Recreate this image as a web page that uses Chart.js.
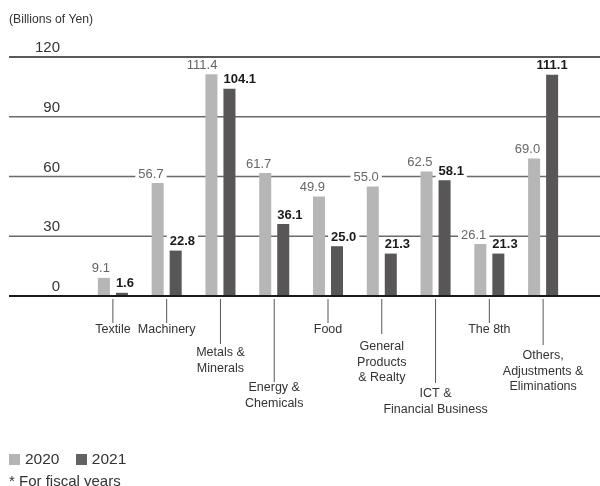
<!DOCTYPE html>
<html>
<head>
<meta charset="utf-8">
<script src="https://cdn.jsdelivr.net/npm/chart.js@4.4.1/dist/chart.umd.min.js"></script>
<style>
  html, body { margin: 0; padding: 0; background: #fff; }
  body { width: 600px; height: 486px; position: relative; overflow: hidden;
         font-family: "Liberation Sans", Arial, sans-serif; color: #333; }
  #wrap { position: absolute; left: 0; top: 0; width: 600px; height: 486px; }
  .unit { position: absolute; left: 9px; top: 12px; font-size: 12.2px; color: #333; }
  .legend { position: absolute; left: 9px; top: 450px; font-size: 15.5px; line-height: 18px; }
  .legend span.sw { display: inline-block; width: 11px; height: 11px; vertical-align: -1px; margin-right: 5px; }
  .legend span.item { margin-right: 12px; }
  .note { position: absolute; left: 9px; top: 472px; font-size: 15px; line-height: 18px; }
</style>
</head>
<body>
<div id="wrap"><canvas id="chart" width="600" height="486"></canvas></div>
<div class="unit">(Billions of Yen)</div>
<div class="legend">
  <span class="item"><span class="sw" style="background:#b4b4b4"></span>2020</span>
  <span class="item"><span class="sw" style="background:#636363"></span>2021</span>
</div>
<div class="note">* For fiscal years</div>

<script>
// Segment profit by business segment

const categories = [
  ["Textile"],
  ["Machinery"],
  ["Metals &", "Minerals"],
  ["Energy &", "Chemicals"],
  ["Food"],
  ["General", "Products", "& Realty"],
  ["ICT &", "Financial Business"],
  ["The 8th"],
  ["Others,", "Adjustments &", "Eliminations"],
];

const values2020 = [9.1, 56.7, 111.4, 61.7, 49.9, 55.0, 62.5, 26.1, 69.0];
const values2021 = [1.6, 22.8, 104.1, 36.1, 25.0, 21.3, 58.1, 21.3, 111.1];

const yTicks = [0, 30, 60, 90, 120];

// leader line length and first text line offset below the axis, per category
const leaderLen = [27, 27, 48, 86, 27, 38, 87, 27, 49];
const textOffset = [34, 34, 57, 92, 34, 51, 98, 34, 60];
// 2021 label alignment against its bar ("left" edge or "center")
const align2021 = ["left", "left", "left", "left", "left", "left", "left", "left", "center"];

const FONT = '"Liberation Sans", Arial, sans-serif';

const gridPlugin = {
  id: "grid",
  beforeDatasetsDraw(chart) {
    const ctx = chart.ctx;
    const y = chart.scales.y;
    ctx.save();
    yTicks.forEach((t) => {
      const py = y.getPixelForValue(t);
      if (t !== 0) {
        ctx.beginPath();
        ctx.strokeStyle = t === 120 ? "#222" : "#6a6a6a";
        ctx.lineWidth = t === 120 ? 1.5 : 1.3;
        ctx.moveTo(9, py);
        ctx.lineTo(600, py);
        ctx.stroke();
      }
      ctx.fillStyle = "#333";
      ctx.font = "15px " + FONT;
      ctx.textAlign = "right";
      ctx.textBaseline = "middle";
      ctx.fillText(String(t), 60, py - 9);
    });
    ctx.restore();
  },
  afterDatasetsDraw(chart) {
    const ctx = chart.ctx;
    const x = chart.scales.x;
    const base = chart.scales.y.getPixelForValue(0);
    ctx.save();

    // value labels with white backing
    chart.data.datasets.forEach((ds, di) => {
      const meta = chart.getDatasetMeta(di);
      meta.data.forEach((bar, i) => {
        const text = ds.data[i].toFixed(1);
        ctx.font = (di === 1 ? "bold " : "") + "13px " + FONT;
        const w = ctx.measureText(text).width;
        const half = bar.width / 2;
        let left;
        if (di === 0) left = bar.x + half - w;
        else left = align2021[i] === "center" ? bar.x - w / 2 : bar.x - half;
        const cy = bar.y - 9;
        ctx.fillStyle = "#fff";
        ctx.fillRect(left - 3, cy - 7, w + 6, 14);
        ctx.fillStyle = di === 0 ? "#666" : "#1a1a1a";
        ctx.textAlign = "left";
        ctx.textBaseline = "middle";
        ctx.fillText(text, left, cy);
      });
    });

    // baseline
    ctx.beginPath();
    ctx.strokeStyle = "#1a1a1a";
    ctx.lineWidth = 1.8;
    ctx.moveTo(9, base);
    ctx.lineTo(600, base);
    ctx.stroke();

    // category leaders and labels
    categories.forEach((lines, i) => {
      const px = x.getPixelForValue(i);
      ctx.beginPath();
      ctx.strokeStyle = "#555";
      ctx.lineWidth = 1;
      ctx.moveTo(px, base + 3);
      ctx.lineTo(px, base + leaderLen[i]);
      ctx.stroke();
      ctx.fillStyle = "#333";
      ctx.font = "12.5px " + FONT;
      ctx.textAlign = "center";
      ctx.textBaseline = "middle";
      lines.forEach((ln, k) => {
        ctx.fillText(ln, px, base + textOffset[i] + k * 15.5);
      });
    });
    ctx.restore();
  },
};

new Chart(document.getElementById("chart"), {
  type: "bar",
  data: {
    labels: categories.map((c) => c.join(" ")),
    datasets: [
      {
        label: "2020",
        data: values2020,
        backgroundColor: "#b5b6b5",
        barPercentage: 0.667,
        categoryPercentage: 0.67,
      },
      {
        label: "2021",
        data: values2021,
        backgroundColor: "#595657",
        barPercentage: 0.667,
        categoryPercentage: 0.67,
      },
    ],
  },
  options: {
    responsive: false,
    animation: false,
    events: [],
    layout: { padding: { left: 86, right: 30, top: 57, bottom: 190 } },
    plugins: { legend: { display: false }, tooltip: { enabled: false } },
    scales: {
      x: { display: false },
      y: { display: false, min: 0, max: 120 },
    },
  },
  plugins: [gridPlugin],
});
</script>
</body>
</html>
